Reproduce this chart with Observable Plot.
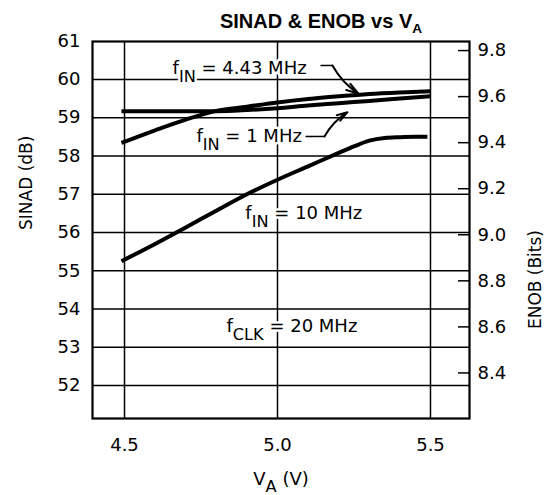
<!DOCTYPE html>
<html>
<head>
<meta charset="utf-8">
<script src="https://cdn.jsdelivr.net/npm/d3@7"></script>
<script src="https://cdn.jsdelivr.net/npm/@observablehq/plot@0.6"></script>
<style>
  html, body { margin: 0; padding: 0; background: white; }
  #chart { width: 544px; height: 495px; }
</style>
</head>
<body>
<div id="chart"></div>
<script>
// ---- data ----
const voltsAB = [4.49, 4.6, 4.7, 4.8, 4.9, 5.0, 5.1, 5.2, 5.3, 5.4, 5.5];
const sinad443MHz = [58.34, 58.67, 58.95, 59.18, 59.29, 59.40, 59.49, 59.56, 59.62, 59.66, 59.69];
const sinad1MHz   = [59.17, 59.17, 59.17, 59.17, 59.20, 59.25, 59.32, 59.38, 59.44, 59.50, 59.56];
const voltsC = [4.49, 4.6, 4.7, 4.8, 4.9, 5.0, 5.1, 5.2, 5.25, 5.3, 5.35, 5.4, 5.45, 5.49];
const sinad10MHz = [55.25, 55.70, 56.13, 56.57, 57.00, 57.38, 57.73, 58.08, 58.25, 58.40, 58.47, 58.49, 58.50, 58.50];

const sinadTicks = [52, 53, 54, 55, 56, 57, 58, 59, 60, 61];
const enobTicks = [8.4, 8.6, 8.8, 9.0, 9.2, 9.4, 9.6, 9.8];
const voltTicks = [4.5, 5.0, 5.5];

const titleText = "SINAD & ENOB vs V_{A}";
const xLabel = "V_{A} (V)";
const yLabel = "SINAD (dB)";
const y2Label = "ENOB (Bits)";

// annotation labels: text, voltage, SINAD (baseline)
const labelTexts = ["f_{IN} = 4.43 MHz", "f_{IN} = 1 MHz", "f_{IN} = 10 MHz", "f_{CLK} = 20 MHz"];
const labelVolts = [4.657, 4.735, 4.895, 4.833];
const labelSinad = [60.144, 58.353, 56.353, 53.386];

// leader lines (horizontal part) and arrows (to curves)
const leaderX1 = [5.1405, 5.0915];
const leaderX2 = [5.1797, 5.1536];
const leaderY  = [60.366, 58.51];
const arrowTipX = [5.2647, 5.2288];
const arrowTipY = [59.63, 59.145];

// ---- tables ----
const series = [
  ...voltsAB.map((v, i) => ({v, s: sinad443MHz[i], k: "4.43 MHz"})),
  ...voltsAB.map((v, i) => ({v, s: sinad1MHz[i], k: "1 MHz"})),
  ...voltsC.map((v, i) => ({v, s: sinad10MHz[i], k: "10 MHz"}))
];
const labels = labelTexts.map((t, i) => ({t, v: labelVolts[i], s: labelSinad[i]}));
const leaders = leaderX1.map((x1, i) => ({x1, x2: leaderX2[i], y: leaderY[i], tx: arrowTipX[i], ty: arrowTipY[i]}));

const toSinad = e => 6.02 * e + 1.76;
const toEnob = s => (s - 1.76) / 6.02;

const FONT = "DejaVu Sans";

const chart = Plot.plot({
  width: 544,
  height: 495,
  marginLeft: 92,
  marginRight: 75,
  marginTop: 41,
  marginBottom: 77,
  x: {domain: [4.3954, 5.6275]},
  y: {domain: [51.137, 60.993]},
  style: {fontFamily: FONT, fontSize: "18px", color: "black", background: "white"},
  marks: [
    Plot.gridY(sinadTicks.filter(d => d < 61), {stroke: "black", strokeOpacity: 1, strokeWidth: 1.5}),
    Plot.gridX(voltTicks, {stroke: "black", strokeOpacity: 1, strokeWidth: 1.5}),
    Plot.frame({stroke: "black", strokeWidth: 2.2}),
    Plot.axisX(voltTicks, {tickSize: 0, tickPadding: 20, tickFormat: d3.format(".1f"), label: null, fontSize: 18}),
    Plot.axisY(sinadTicks, {tickSize: 0, tickPadding: 12, label: null, fontSize: 18}),
    Plot.axisY(enobTicks.map(toSinad), {anchor: "right", tickSize: -12, tickPadding: 20, strokeWidth: 1.5,
      tickFormat: d => toEnob(d).toFixed(1), label: null, fontSize: 18}),
    Plot.line(series, {x: "v", y: "s", z: "k", stroke: "black", strokeWidth: 4, curve: "monotone-x", strokeLinecap: "butt"}),
    Plot.text(labels, {x: "v", y: "s", text: "t", textAnchor: "start", lineAnchor: "bottom", fontSize: 18,
      fill: "black", stroke: "white", strokeWidth: 5}),
    Plot.link(leaders, {x1: "x1", x2: "x2", y1: "y", y2: "y", stroke: "black", strokeWidth: 1.5}),
    Plot.arrow(leaders.slice(0, 1), {x1: "x2", y1: "y", x2: "tx", y2: "ty", stroke: "black", strokeWidth: 2, bend: -14,
      headLength: 11, headAngle: 34}),
    Plot.arrow(leaders.slice(1), {x1: "x2", y1: "y", x2: "tx", y2: "ty", stroke: "black", strokeWidth: 2, bend: 14,
      headLength: 11, headAngle: 34}),
    Plot.text([titleText], {frameAnchor: "top", dx: 40, dy: -14, lineAnchor: "bottom", fontSize: 20,
      fontWeight: "bold", fontFamily: "Liberation Sans"}),
    Plot.text([yLabel], {frameAnchor: "left", dx: -66, rotate: -90, fontSize: 17}),
    Plot.text([y2Label], {frameAnchor: "right", dx: 66, rotate: -90, fontSize: 17}),
    Plot.text([xLabel], {frameAnchor: "bottom", dy: 66, lineAnchor: "bottom", fontSize: 18})
  ]
});

document.getElementById("chart").appendChild(chart);

// convert "x_{sub}" into real subscript tspans
chart.querySelectorAll("text").forEach(t => {
  const s = t.textContent;
  const m = s.match(/^(.*?)_\{(.*?)\}(.*)$/);
  if (!m) return;
  const fs = parseFloat(getComputedStyle(t).fontSize);
  const bold = getComputedStyle(t).fontWeight >= 600 || getComputedStyle(t).fontWeight === "bold";
  const ratio = bold ? 0.68 : 0.9;
  const shift = bold ? 0.25 * fs : 0.42 * fs;
  while (t.firstChild) t.removeChild(t.firstChild);
  const ns = "http://www.w3.org/2000/svg";
  const a = document.createElementNS(ns, "tspan"); a.textContent = m[1];
  const b = document.createElementNS(ns, "tspan"); b.textContent = m[2];
  b.setAttribute("dy", shift); b.setAttribute("font-size", (fs * ratio) + "px");
  const c = document.createElementNS(ns, "tspan"); c.textContent = m[3];
  c.setAttribute("dy", -shift);
  t.appendChild(a); t.appendChild(b); if (m[3]) t.appendChild(c);
});
</script>
</body>
</html>
